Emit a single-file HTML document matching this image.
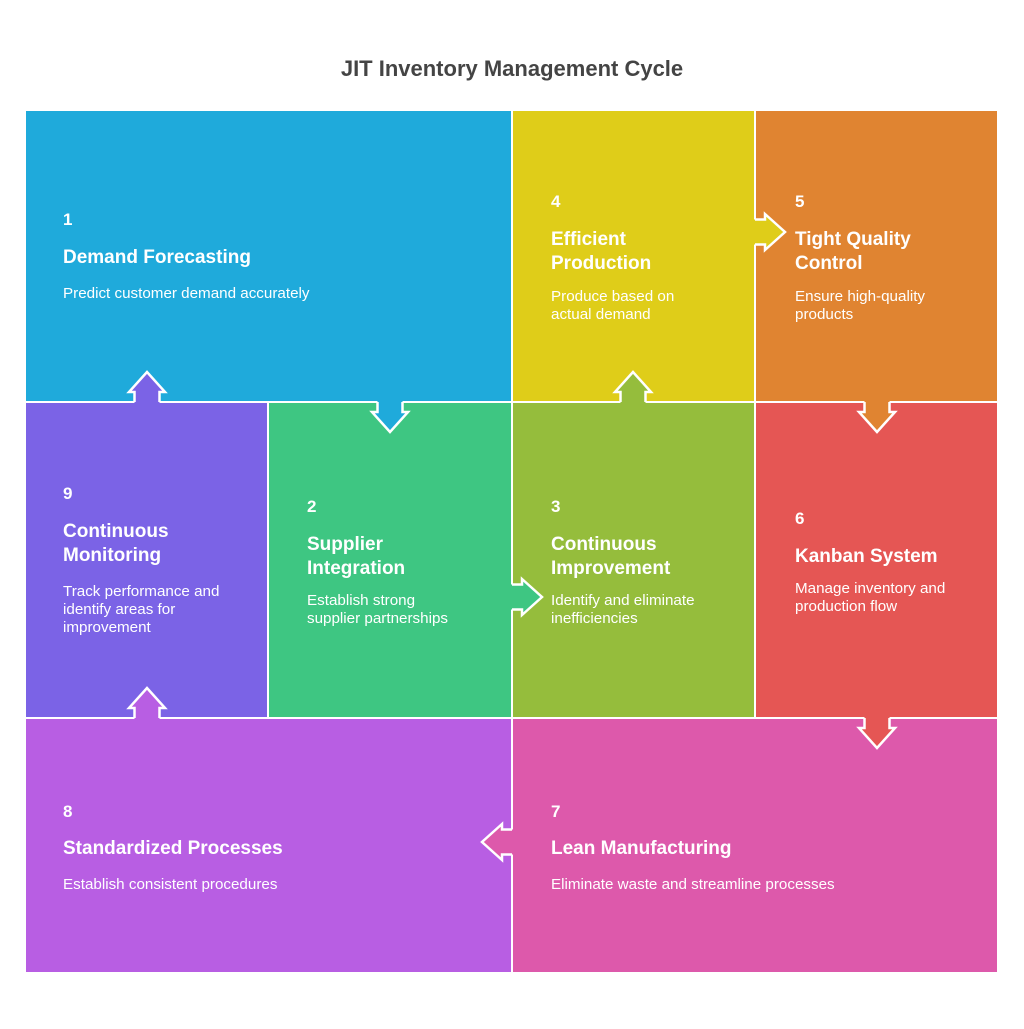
<!DOCTYPE html>
<html><head><meta charset="utf-8"><style>
body{margin:0;background:#fff}
svg text{font-family:"Liberation Sans",Arial,sans-serif;fill:#fff}
.n{font-weight:bold;font-size:17px}
.t{font-weight:bold;font-size:19px}
.d{font-size:15.2px}
</style></head><body>
<svg width="1024" height="1024" viewBox="0 0 1024 1024" xmlns="http://www.w3.org/2000/svg">
<rect width="1024" height="1024" fill="#fff"/>
<text x="512" y="76" text-anchor="middle" style="fill:#444;font-weight:bold;font-size:22px">JIT Inventory Management Cycle</text>
<g stroke="#fff" stroke-width="2">
<rect x="25" y="110" width="487" height="292" fill="#1faadb"/>
<rect x="512" y="110" width="243" height="292" fill="#dfcd19"/>
<rect x="755" y="110" width="243" height="292" fill="#e08431"/>
<rect x="25" y="402" width="243" height="316" fill="#7b63e6"/>
<rect x="268" y="402" width="244" height="316" fill="#3ec682"/>
<rect x="512" y="402" width="243" height="316" fill="#95bd3c"/>
<rect x="755" y="402" width="243" height="316" fill="#e55654"/>
<rect x="25" y="718" width="487" height="255" fill="#b85ee3"/>
<rect x="512" y="718" width="486" height="255" fill="#dd59ab"/>
</g>
<defs>
<g id="af"><polygon points="-12.5,-3 -12.5,10 -18,10 0,30 18,10 12.5,10 12.5,-3"/></g>
<g id="ao"><polyline points="-12.5,0 -12.5,10 -18,10 0,30 18,10 12.5,10 12.5,0" fill="none" stroke="#fff" stroke-width="2.5" stroke-linejoin="miter"/></g>
</defs>
<g transform="translate(390,402)" fill="#1faadb"><use href="#af"/><use href="#ao"/></g>
<g transform="translate(512,597) rotate(-90)" fill="#3ec682"><use href="#af"/><use href="#ao"/></g>
<g transform="translate(633,402) rotate(180)" fill="#95bd3c"><use href="#af"/><use href="#ao"/></g>
<g transform="translate(755,232) rotate(-90)" fill="#dfcd19"><use href="#af"/><use href="#ao"/></g>
<g transform="translate(877,402)" fill="#e08431"><use href="#af"/><use href="#ao"/></g>
<g transform="translate(877,718)" fill="#e55654"><use href="#af"/><use href="#ao"/></g>
<g transform="translate(512,842) rotate(90)" fill="#dd59ab"><use href="#af"/><use href="#ao"/></g>
<g transform="translate(147,718) rotate(180)" fill="#b85ee3"><use href="#af"/><use href="#ao"/></g>
<g transform="translate(147,402) rotate(180)" fill="#7b63e6"><use href="#af"/><use href="#ao"/></g>

<text class="n" x="63" y="225">1</text>
<text class="t" x="63" y="263">Demand Forecasting</text>
<text class="d" x="63" y="298">Predict customer demand accurately</text>

<text class="n" x="551" y="207">4</text>
<text class="t" x="551" y="245">Efficient</text>
<text class="t" x="551" y="269">Production</text>
<text class="d" x="551" y="301">Produce based on</text>
<text class="d" x="551" y="319">actual demand</text>

<text class="n" x="795" y="207">5</text>
<text class="t" x="795" y="245">Tight Quality</text>
<text class="t" x="795" y="269">Control</text>
<text class="d" x="795" y="301">Ensure high-quality</text>
<text class="d" x="795" y="319">products</text>

<text class="n" x="63" y="499">9</text>
<text class="t" x="63" y="537">Continuous</text>
<text class="t" x="63" y="561">Monitoring</text>
<text class="d" x="63" y="596">Track performance and</text>
<text class="d" x="63" y="614">identify areas for</text>
<text class="d" x="63" y="632">improvement</text>

<text class="n" x="307" y="512">2</text>
<text class="t" x="307" y="550">Supplier</text>
<text class="t" x="307" y="574">Integration</text>
<text class="d" x="307" y="605">Establish strong</text>
<text class="d" x="307" y="623">supplier partnerships</text>

<text class="n" x="551" y="512">3</text>
<text class="t" x="551" y="550">Continuous</text>
<text class="t" x="551" y="574">Improvement</text>
<text class="d" x="551" y="605">Identify and eliminate</text>
<text class="d" x="551" y="623">inefficiencies</text>

<text class="n" x="795" y="524">6</text>
<text class="t" x="795" y="562">Kanban System</text>
<text class="d" x="795" y="593">Manage inventory and</text>
<text class="d" x="795" y="611">production flow</text>

<text class="n" x="63" y="817">8</text>
<text class="t" x="63" y="854">Standardized Processes</text>
<text class="d" x="63" y="889">Establish consistent procedures</text>

<text class="n" x="551" y="817">7</text>
<text class="t" x="551" y="854">Lean Manufacturing</text>
<text class="d" x="551" y="889">Eliminate waste and streamline processes</text>
</svg>
</body></html>
